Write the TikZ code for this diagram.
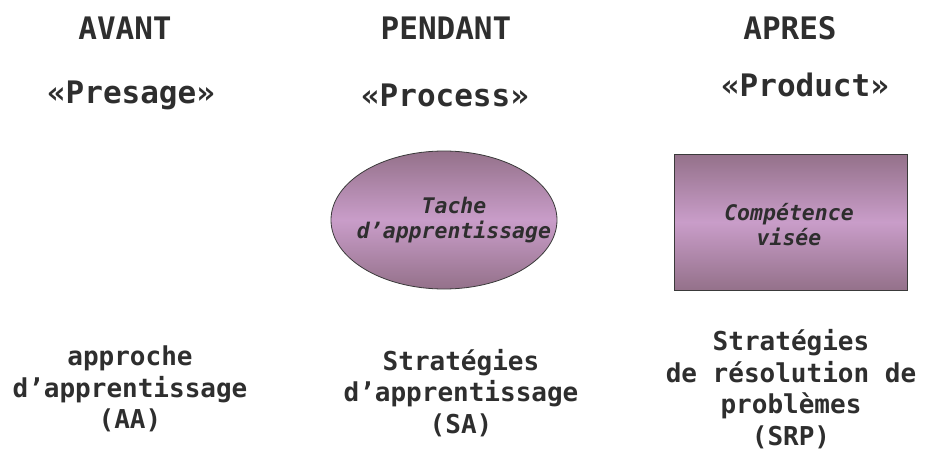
\documentclass[tikz,border=0pt]{standalone}
\usepackage{fontspec}
\setmonofont{DejaVu Sans Mono}
\definecolor{ink}{HTML}{2E2E2E}
\definecolor{mauvedark}{HTML}{94718A}
\definecolor{mauvelight}{HTML}{C99DC9}
\definecolor{edge}{HTML}{3A3A3A}
\tikzset{
  x=1pt, y=-1pt,
  head/.style={text=ink, font=\ttfamily\bfseries\fontsize{31}{34}\selectfont, inner sep=0pt},
  phase/.style={text=ink, font=\ttfamily\bfseries\fontsize{31}{34}\selectfont, inner sep=0pt},
  foot/.style={text=ink, align=center, font=\ttfamily\bfseries\fontsize{26}{31.5}\selectfont, inner sep=0pt},
  inside/.style={text=ink, align=center, font=\ttfamily\bfseries\itshape\fontsize{21.5}{25}\selectfont},
  shade3/.style={draw=edge, line width=0.8pt, top color=mauvedark, bottom color=mauvedark, middle color=mauvelight}
}
\begin{document}
\begin{tikzpicture}
\useasboundingbox (0,0) rectangle (926,452);
% column headings
\node[head] (avant) at (125,28) {AVANT};
\node[head] (pendant) at (446,28) {PENDANT};
\node[head] (apres) at (790,28) {APRES};
% phase names
\node[phase] (presage) at (131,95) {«Presage»};
\node[phase] (process) at (445,95) {«Process»};
\node[phase] (product) at (805,85) {«Product»};
% shapes
\path[shade3] (444,220) ellipse [x radius=113, y radius=69];
\node[inside] (tache) at (454,220) {Tache\\d’apprentissage};
\path[shade3] (674,154) rectangle (907,290);
\node[inside] (comp) at (789,225) {Compétence\\visée};
% strategies
\node[foot] (aa) at (130,389) {approche\\d’apprentissage\\(AA)};
\node[foot] (sa) at (461,393) {Stratégies\\d’apprentissage\\(SA)};
\node[foot] (srp) at (791,389) {Stratégies\\de résolution de\\problèmes\\(SRP)};
\end{tikzpicture}
\end{document}
